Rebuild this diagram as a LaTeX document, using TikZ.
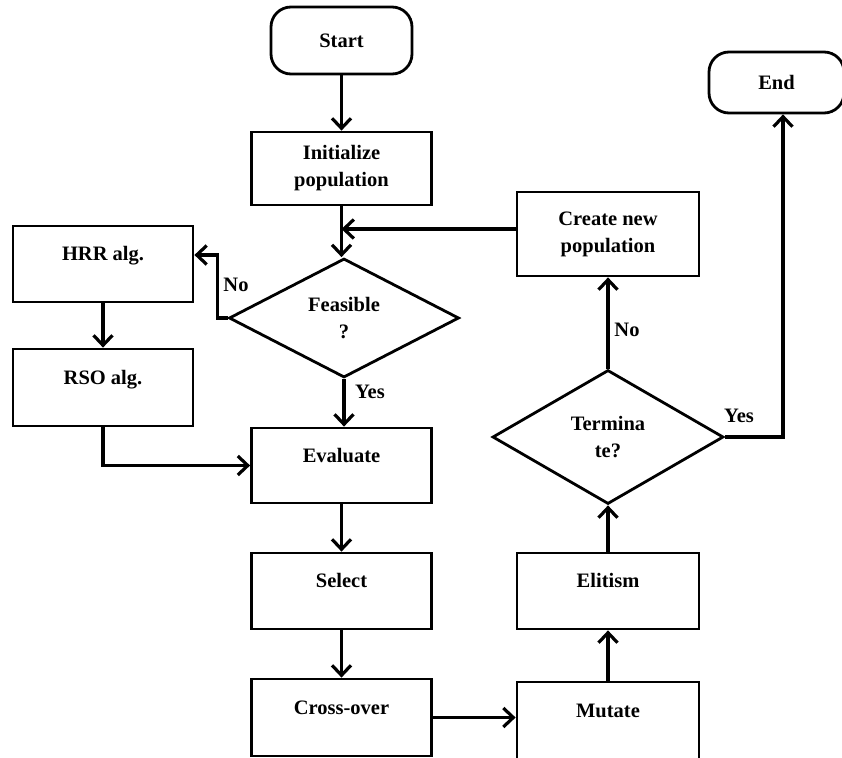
\documentclass[tikz,border=0pt]{standalone}
\usepackage{fontspec}
\setmainfont{Liberation Serif}
\usetikzlibrary{arrows.meta,shapes.geometric}
\begin{document}
\begin{tikzpicture}[x=1pt,y=-1pt,
  every node/.style={font=\bfseries\fontsize{20.5}{27}\selectfont, inner sep=0pt},
  box/.style={draw, line width=2.8pt, minimum width=180pt, text height=14pt, text depth=21pt},
  boxtwo/.style={draw, line width=2.8pt, minimum width=180pt, align=center},
  term/.style={draw, line width=2.8pt, rounded corners=20pt},
  dec/.style={draw, line width=2.8pt, diamond, align=center},
  arr/.style={line width=3.2pt, -{Straight Barb[length=10pt,width=19pt,line width=3.2pt]}},
  lab/.style={anchor=base}
]
\useasboundingbox (0,0) rectangle (842,757);
\fill[white] (0,0) rectangle (842,757);

\node[term, minimum width=141pt, minimum height=67pt] (start) at (341.5,40.5) {Start};
\node[term, minimum width=135pt, minimum height=61pt] (endn) at (776.5,82.5) {End};

\node[boxtwo, minimum height=73pt] (init) at (341.5,168.5) {Initialize\\population};
\node[boxtwo, minimum width=182pt, minimum height=84pt] (create) at (608,234) {Create new\\population};

\node[dec, minimum width=230pt, minimum height=119pt] (feas) at (344,318) {Feasible\\?};
\node[box, minimum height=76pt] (hrr) at (103,264) {HRR alg.};
\node[box, minimum height=77pt] (rso) at (103,387.5) {RSO alg.};

\node[box, minimum height=75pt] (eval) at (341.5,465.5) {Evaluate};
\node[box, minimum height=76pt] (select) at (341.5,591) {Select};
\node[box, minimum height=77pt] (cross) at (341.5,717.5) {Cross-over};

\node[dec, minimum width=231pt, minimum height=134pt] (termq) at (608,437) {Termina\\te?};
\node[box, minimum width=182pt, minimum height=76pt] (elit) at (608,591) {Elitism};
\node[box, minimum width=182pt, minimum height=78pt] (mutate) at (608,721) {Mutate};

% connectors
\draw[arr] (start) -- (init);
\draw[arr] (init.south) -- (init.south |- feas.north);
\coordinate (cw) at ([yshift=5pt]create.west);
\draw[arr] (cw) -- (cw -| init.south);
\draw[arr] (feas.west) -- ++(-10,0) |- ([yshift=9pt]hrr.east);
\draw[arr] (hrr) -- (rso);
\draw[arr] (rso.south) |- (eval.west);
\draw[arr] (feas.south) -- (feas.south |- eval.north);
\draw[arr] (eval) -- (select);
\draw[arr] (select) -- (cross);
\draw[arr] (cross.east) -- (cross.east -| mutate.west);
\draw[arr] (mutate) -- (elit);
\draw[arr] (elit.north) -- (termq.south);
\draw[arr] (termq.north) -- (termq.north |- create.south);
\draw[arr] (termq.east) -| ([xshift=6.5pt]endn.south);

% labels
\node[lab] (lno1) at (236,291) {No};
\node[lab] (lyes1) at (370,398) {Yes};
\node[lab] (lno2) at (627,336) {No};
\node[lab] (lyes2) at (739,422) {Yes};
\end{tikzpicture}
\end{document}
